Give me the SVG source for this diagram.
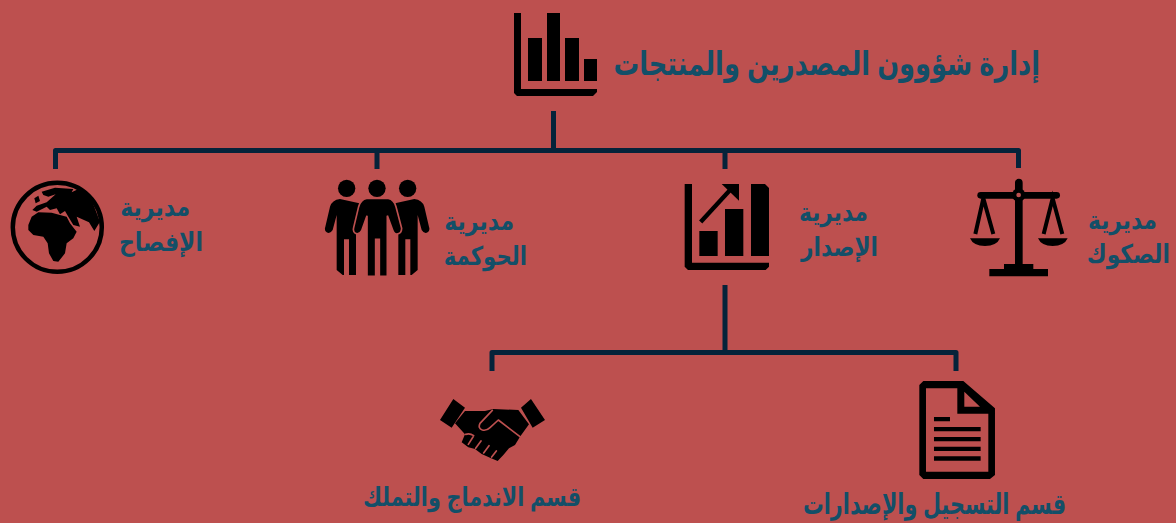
<svg xmlns="http://www.w3.org/2000/svg" width="1176" height="523" viewBox="0 0 1176 523">
<style>
.t{font-family:"Liberation Sans","DejaVu Sans","Noto Sans",sans-serif;font-weight:700;fill:#134f68;direction:rtl;text-anchor:start}
.b{font-size:26px}
.c{fill:none;stroke:#05233a;stroke-width:5;stroke-linejoin:round}
.i{fill:#000}
</style>
<rect width="1176" height="523" fill="#bd504f"/>
<g id="connectors">
<path class="c" d="M553.5 111V150.500M55.500 169V150.500H1018.500V168M377 150.500V169M725 150.500V169"/>
<path class="c" d="M725 285V352.500M492 371V352.500H956V371"/>
</g>
<g id="node-root">
<path class="i" d="M514 13h7v76h76v3l-4 4h-76l-3-3zM528 38h14v43h-14zM547 13h13v68h-13zM565 38h14v43h-14zM584 59h13v22h-13z"/>
<text class="t" font-size="33" transform="translate(1040 75) scale(.777 1)">إدارة شؤوون المصدرين والمنتجات</text>
</g>
<g id="node-disclosure">
<circle cx="57.300" cy="227.300" r="44.500" fill="none" stroke="#000" stroke-width="4.500"/>
<g transform="translate(5 175) scale(.3333)">
<path class="i" d="M70 150L80 125L100 112L140 113L165 120L185 125L195 145L215 170L205 190L185 205L180 235L160 260L145 258L132 235L128 205L115 185L85 180L70 165Z"/>
<path class="i" d="M110 50L150 38L205 42L200 52L225 40L262 80L285 140L268 168L252 142L215 125L225 155L205 150L190 125L180 108L165 118L155 100L135 105L125 95L95 110L82 105L95 92L125 82L152 58L130 65L115 60Z"/>
<path class="i" d="M88 70L100 62L105 78L92 85Z"/>
</g>
<text class="t b" transform="translate(190 216) scale(.846 1)">مديرية</text>
<text class="t b" transform="translate(203 251) scale(.846 1)">الإفصاح</text>
</g>
<g id="node-governance">
<g transform="translate(320 175) scale(.3333)">
<circle class="i" cx="80" cy="40" r="26"/><circle class="i" cx="171" cy="40" r="26"/><circle class="i" cx="263" cy="40" r="26"/>
<path class="i" d="M60 72L118 85L103 158Q100 170 108 175V300H87V193H72V300H68L50 285V120L38 165Q30 178 20 172Q12 166 16 155L30 95Q36 75 60 72Z"/>
<path class="i" d="M283 72L225 85L240 158Q243 170 235 175V300H256V193H271V300H275L293 285V120L305 165Q313 178 323 172Q331 166 327 155L313 95Q307 75 283 72Z"/>
<path class="i" stroke="#bd504f" stroke-width="5" d="M140 70H205Q222 73 228 95L245 160Q245 177 230 177Q222 177 218 165L202 122V304H178V193H167V304H141V122L125 167Q118 180 106 175Q98 170 101 158L116 95Q122 73 140 70Z"/>
</g>
<text class="t b" transform="translate(514 230) scale(.846 1)">مديرية</text>
<text class="t b" transform="translate(527 265) scale(.817 1)">الحوكمة</text>
</g>
<g id="node-issuance">
<g transform="translate(670 160) scale(.3333)">
<path class="i" d="M44 72H66V308H297V320L287 330H54L44 320ZM88 213H143V288H88ZM165 147H220V288H165ZM243 72H285L297 84V288H243Z"/>
<path fill="none" stroke="#000" stroke-width="13" d="M92 186L185 85"/>
<path class="i" d="M155 72H207V122Z"/>
</g>
<text class="t b" transform="translate(868 221) scale(.835 1)">مديرية</text>
<text class="t b" transform="translate(878 256) scale(.835 1)">الإصدار</text>
</g>
<g id="node-sukuk">
<g transform="translate(950 160) scale(.3333)">
<path class="i" d="M195 68a11.500 11.500 0 0 1 23 0V312H250V327H294V349H118V327H162V312H195Z"/>
<rect class="i" x="82" y="96" width="248" height="20" rx="10"/>
<circle class="i" cx="206" cy="105" r="20"/><circle cx="206" cy="105" r="7" fill="#bd504f"/>
<path fill="none" stroke="#000" stroke-width="12" d="M76 222L100 115L130 222M281 222L308 115L337 222"/>
<path class="i" d="M60 235H150Q140 258 105 258Q70 258 60 235ZM264 235H353Q343 258 308 258Q274 258 264 235Z"/>
</g>
<text class="t b" transform="translate(1157 229) scale(.835 1)">مديرية</text>
<text class="t b" transform="translate(1170 263) scale(.837 1)">الصكوك</text>
</g>
<g id="node-merger">
<g transform="translate(435 395) scale(.3333)">
<path class="i" d="M55 12L90 38L50 98L15 75ZM288 12L330 75L293 98L258 38Z"/>
<path class="i" d="M90 48L150 48L175 42L250 45L282 88L255 125L240 150L222 160L205 180L188 198L165 188L140 177L120 162L100 157L80 142L90 118L60 85Z"/>
<path fill="none" stroke="#bd504f" stroke-width="5" stroke-linecap="round" stroke-linejoin="round" d="M172 46L135 85Q128 100 142 105Q155 108 165 98L190 75L255 125M92 118Q105 114 116 122M114 126L100 148M138 138L122 160M162 152L146 174M184 168L170 186"/>
</g>
<text class="t" font-size="26" transform="translate(581 506) scale(.797 1)">قسم الاندماج والتملك</text>
</g>
<g id="node-registration">
<g transform="translate(790 370) scale(.3333)">
<path class="i" fill-rule="evenodd" d="M400 33H520L615 115V315L600 327H400L388 315V45ZM408 55V305H595V131H502V55ZM523 65V110H570Z"/>
<path class="i" d="M432 141H480V154H432ZM432 171H572V184H432ZM432 201H572V214H432ZM432 230H572V243H432ZM432 259H572V272H432Z"/>
</g>
<text class="t" font-size="29" transform="translate(1066 514) scale(.715 1)">قسم التسجيل والإصدارات</text>
</g>
</svg>
